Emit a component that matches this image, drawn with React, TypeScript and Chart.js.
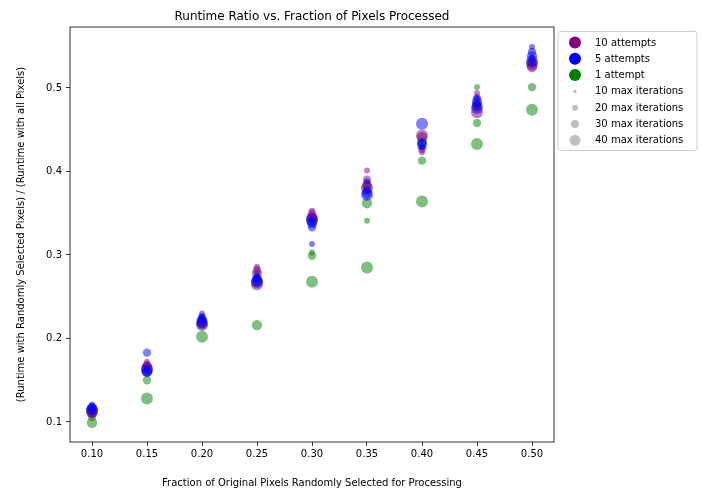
import React, { useEffect, useRef } from 'react';
import { Chart, registerables } from 'chart.js';

Chart.register(...registerables);

// x categories: fraction of pixels processed
const fractions = [0.1, 0.15, 0.2, 0.25, 0.3, 0.35, 0.4, 0.45, 0.5];
const xTicks = [0.1, 0.15, 0.2, 0.25, 0.3, 0.35, 0.4, 0.45, 0.5];
const yTicks = [0.1, 0.2, 0.3, 0.4, 0.5];

// runtime ratios, 10 attempts (purple)
const att10_it10 = [0.116, 0.172, 0.23, 0.286, 0.353, 0.401, 0.423, 0.494, 0.536];
const att10_it20 = [0.113, 0.168, 0.222, 0.282, 0.35, 0.39, 0.427, 0.488, 0.531];
const att10_it30 = [0.111, 0.166, 0.219, 0.278, 0.345, 0.383, 0.441, 0.478, 0.525];
const att10_it40 = [0.112, 0.164, 0.216, 0.265, 0.344, 0.38, 0.443, 0.471, 0.528];
// 5 attempts (blue)
const att5_it10 = [0.121, 0.163, 0.227, 0.275, 0.313, 0.388, 0.429, 0.488, 0.549];
const att5_it20 = [0.118, 0.183, 0.225, 0.272, 0.333, 0.378, 0.434, 0.481, 0.543];
const att5_it30 = [0.116, 0.16, 0.222, 0.27, 0.338, 0.374, 0.432, 0.484, 0.538];
const att5_it40 = [0.115, 0.162, 0.219, 0.268, 0.342, 0.372, 0.457, 0.476, 0.532];
// 1 attempt (green)
const att1_it10 = [0.11, 0.165, 0.224, 0.278, 0.303, 0.341, 0.43, 0.501, 0.535];
const att1_it20 = [0.106, 0.15, 0.221, 0.272, 0.299, 0.385, 0.413, 0.458, 0.501];
const att1_it30 = [0.099, 0.16, 0.217, 0.216, 0.34, 0.362, 0.435, 0.48, 0.53];
const att1_it40 = [0.113, 0.128, 0.202, 0.268, 0.268, 0.285, 0.364, 0.433, 0.474];

const attemptLabels = ['10 attempts', '5 attempts', '1 attempt'];
const iterationLabels = ['10 max iterations', '20 max iterations', '30 max iterations', '40 max iterations'];

const FONT = '"DejaVu Sans", sans-serif';

// drawing order: bottom (first) to top (last)
const seriesTable = [
  { attempt: 2, color: 'rgba(0,128,0,0.5)', rows: [att1_it10, att1_it20, att1_it30, att1_it40] },
  { attempt: 0, color: 'rgba(128,0,128,0.5)', rows: [att10_it10, att10_it20, att10_it30, att10_it40] },
  { attempt: 1, color: 'rgba(0,0,255,0.5)', rows: [att5_it10, att5_it20, att5_it30, att5_it40] },
];
const pointRadii = [3, 4.2, 5.2, 6];
const legendColors = ['#800080', '#0000ff', '#008000'];
const legendSizeRadii = [1.6, 3, 4, 5.5];

const framePlugin = {
  id: 'frameAndLegend',
  afterDatasetsDraw(chart: any) {
    const { ctx, chartArea } = chart;
    ctx.save();
    ctx.strokeStyle = '#000';
    ctx.lineWidth = 0.8;
    ctx.strokeRect(chartArea.left, chartArea.top, chartArea.right - chartArea.left, chartArea.bottom - chartArea.top);
    ctx.restore();
  },
  afterDraw(chart: any) {
    const { ctx, chartArea } = chart;
    const bx = chartArea.right + 4;
    const by = chartArea.top + 4.5;
    const bw = 139;
    const bh = 119;
    ctx.save();
    ctx.beginPath();
    const r = 2.5;
    ctx.moveTo(bx + r, by);
    ctx.lineTo(bx + bw - r, by);
    ctx.quadraticCurveTo(bx + bw, by, bx + bw, by + r);
    ctx.lineTo(bx + bw, by + bh - r);
    ctx.quadraticCurveTo(bx + bw, by + bh, bx + bw - r, by + bh);
    ctx.lineTo(bx + r, by + bh);
    ctx.quadraticCurveTo(bx, by + bh, bx, by + bh - r);
    ctx.lineTo(bx, by + r);
    ctx.quadraticCurveTo(bx, by, bx + r, by);
    ctx.closePath();
    ctx.fillStyle = 'rgba(255,255,255,0.8)';
    ctx.fill();
    ctx.strokeStyle = '#cccccc';
    ctx.lineWidth = 1;
    ctx.stroke();

    const items: { label: string; color: string; r: number }[] = [];
    attemptLabels.forEach((l, i) => items.push({ label: l, color: legendColors[i], r: 6 }));
    iterationLabels.forEach((l, i) => items.push({ label: l, color: 'rgba(128,128,128,0.5)', r: legendSizeRadii[i] }));

    ctx.font = `10px ${FONT}`;
    ctx.textBaseline = 'middle';
    ctx.textAlign = 'left';
    items.forEach((it, i) => {
      const y = by + 11 + i * 16.3;
      ctx.beginPath();
      ctx.arc(bx + 17, y, it.r, 0, Math.PI * 2);
      ctx.fillStyle = it.color;
      ctx.fill();
      ctx.fillStyle = '#000';
      ctx.fillText(it.label, bx + 37, y + 0.5);
    });
    ctx.restore();
  },
};

export default function App() {
  const ref = useRef<HTMLCanvasElement | null>(null);

  useEffect(() => {
    if (!ref.current) return;
    const datasets: any[] = [];
    seriesTable.forEach((s) => {
      s.rows.forEach((row, ri) => {
        datasets.push({
          label: `${attemptLabels[s.attempt]} / ${iterationLabels[ri]}`,
          data: fractions.map((x, k) => ({ x, y: row[k] })),
          backgroundColor: s.color,
          borderWidth: 0,
          pointRadius: pointRadii[ri],
          pointHoverRadius: pointRadii[ri],
        });
      });
    });
    // Chart.js draws dataset 0 last (on top)
    datasets.reverse();

    const chart = new Chart(ref.current, {
      type: 'scatter',
      data: { datasets },
      options: {
        responsive: false,
        animation: false,
        devicePixelRatio: 1,
        layout: { padding: { left: 0, top: 0, right: 148, bottom: 0 } },
        plugins: {
          legend: { display: false },
          tooltip: { enabled: false },
          title: {
            display: true,
            text: 'Runtime Ratio vs. Fraction of Pixels Processed',
            fullSize: false,
            color: '#000',
            font: { family: FONT, size: 12, weight: 'normal' },
            padding: { top: 10, bottom: 2.6 },
          },
        },
        scales: {
          x: {
            type: 'linear',
            min: 0.08,
            max: 0.52,
            afterBuildTicks: (axis: any) => {
              axis.ticks = xTicks.map((v) => ({ value: v }));
            },
            afterFit: (scale: any) => {
              scale.height = 49;
            },
            ticks: {
              callback: (v: any) => Number(v).toFixed(2),
              color: '#000',
              font: { family: FONT, size: 10 },
              padding: 2,
              maxRotation: 0,
              autoSkip: false,
            },
            grid: { display: true, drawOnChartArea: false, drawTicks: true, tickLength: 4, color: '#000', lineWidth: 0.8 },
            border: { display: false },
            title: {
              display: true,
              text: 'Fraction of Original Pixels Randomly Selected for Processing',
              color: '#000',
              font: { family: FONT, size: 10 },
              padding: { top: 0, bottom: 2 },
            },
          },
          y: {
            type: 'linear',
            min: 0.076,
            max: 0.573,
            afterBuildTicks: (axis: any) => {
              axis.ticks = yTicks.map((v) => ({ value: v }));
            },
            afterFit: (scale: any) => {
              scale.width = 70;
            },
            ticks: {
              callback: (v: any) => Number(v).toFixed(1),
              color: '#000',
              font: { family: FONT, size: 10 },
              padding: 4,
              autoSkip: false,
            },
            grid: { display: true, drawOnChartArea: false, drawTicks: true, tickLength: 4, color: '#000', lineWidth: 0.8 },
            border: { display: false },
            title: {
              display: true,
              text: '(Runtime with Randomly Selected Pixels) / (Runtime with all Pixels)',
              color: '#000',
              font: { family: FONT, size: 10 },
              padding: { top: 15, bottom: 0 },
            },
          },
        },
      },
      plugins: [framePlugin],
    });
    return () => chart.destroy();
  }, []);

  return (
    <div style={{ position: 'absolute', left: 0, top: 0, width: 702, height: 491, background: '#fff' }}>
      <canvas ref={ref} width={702} height={491} style={{ display: 'block', width: 702, height: 491 }} />
    </div>
  );
}
